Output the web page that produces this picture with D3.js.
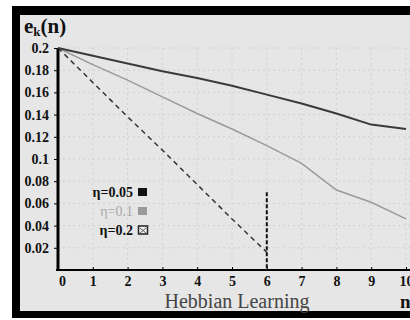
<!DOCTYPE html>
<html>
<head>
<meta charset="utf-8">
<script src="https://cdn.jsdelivr.net/npm/d3@7"></script>
<style>
  body { margin: 0; background: #fff; }
  svg { display: block; }
  text { font-family: "Liberation Serif", "DejaVu Serif", serif; }
</style>
</head>
<body>
<svg width="410" height="320"></svg>
<script>
// values
var steps = [0, 1, 2, 3, 4, 5, 6, 7, 8, 9, 10];
var eta005 = [0.2, 0.193, 0.186, 0.179, 0.173, 0.166, 0.158, 0.150, 0.141, 0.131, 0.127];
var eta01 = [0.2, 0.185, 0.171, 0.156, 0.141, 0.127, 0.112, 0.096, 0.072, 0.061, 0.046];
var steps02 = [0, 1, 2, 3, 4, 5, 6];
var eta02 = [0.2, 0.169, 0.138, 0.108, 0.077, 0.046, 0.016];
var yTicks = [0.02, 0.04, 0.06, 0.08, 0.1, 0.12, 0.14, 0.16, 0.18, 0.2];
var legendNames = ["η=0.05", "η=0.1", "η=0.2"];

var serif = '"Liberation Serif", "DejaVu Serif", serif';
var svg = d3.select("svg");

// scanned page: black frame, grey paper
svg.append("rect").attr("x", 12).attr("y", 6).attr("width", 410).attr("height", 312).attr("fill", "#000");
svg.append("rect").attr("x", 20).attr("y", 15).attr("width", 400).attr("height", 296).attr("fill", "#e6e6e6");

var x = d3.scaleLinear().domain([0, 10]).range([58, 406]);
var y = d3.scaleLinear().domain([0, 0.2]).range([270, 48]);

// faint dotted grid
var grid = svg.append("g").attr("stroke", "#d0d0d0").attr("stroke-dasharray", "2,3").attr("stroke-width", 1);
grid.selectAll(".h").data(yTicks).enter().append("line")
    .attr("x1", x(0)).attr("x2", 410)
    .attr("y1", function (d) { return y(d); }).attr("y2", function (d) { return y(d); });
grid.selectAll(".v").data(steps.slice(1)).enter().append("line")
    .attr("x1", function (d) { return x(d); }).attr("x2", function (d) { return x(d); })
    .attr("y1", y(0.2)).attr("y2", y(0));

// y axis
var yAxis = svg.append("g")
    .attr("transform", "translate(" + x(0) + ",0)")
    .call(d3.axisLeft(y).tickValues(yTicks).tickSize(4).tickPadding(5).tickFormat(d3.format("~g")));
yAxis.attr("font-family", serif);
yAxis.select(".domain").attr("stroke-width", 3).attr("d", "M0," + y(0.2) + "V" + (y(0) + 1));
yAxis.selectAll("text").attr("font-size", 14).attr("font-weight", "bold").attr("fill", "#111");

// x axis
var xAxis = svg.append("g")
    .attr("transform", "translate(0," + y(0) + ")")
    .call(d3.axisBottom(x).tickValues(steps).tickSize(-3).tickPadding(6).tickFormat(d3.format("d")));
xAxis.attr("font-family", serif);
xAxis.select(".domain").attr("stroke-width", 2).attr("d", "M" + (x(0) - 2) + ",0H410");
xAxis.selectAll("text").attr("font-size", 14).attr("font-weight", "bold").attr("fill", "#111")
    .attr("dx", function (d) { return d == 0 ? 4 : 0; });

// curves
var line = d3.line()
    .x(function (d) { return x(d[0]); })
    .y(function (d) { return y(d[1]); });

svg.append("path")
    .datum(d3.zip(steps, eta01))
    .attr("d", line).attr("fill", "none").attr("stroke", "#9a9a9a").attr("stroke-width", 1.5);
svg.append("path")
    .datum(d3.zip(steps, eta005))
    .attr("d", line).attr("fill", "none").attr("stroke", "#3a3a3a").attr("stroke-width", 2);
svg.append("path")
    .datum(d3.zip(steps02, eta02))
    .attr("d", line).attr("fill", "none").attr("stroke", "#333").attr("stroke-width", 1.5)
    .attr("stroke-dasharray", "5,4");

// vertical dashed marker at n=6
svg.append("line")
    .attr("x1", x(6)).attr("x2", x(6))
    .attr("y1", y(0.07)).attr("y2", y(0))
    .attr("stroke", "#111").attr("stroke-width", 2).attr("stroke-dasharray", "4,2");

// legend
var legend = svg.append("g");
var legendY = [192, 211, 230];
var legendColor = ["#111", "#a8a8a8", "#111"];
legend.selectAll("text").data(legendNames).enter().append("text")
    .attr("x", 133).attr("y", function (d, i) { return legendY[i] + 5; })
    .attr("text-anchor", "end").attr("font-size", 14)
    .attr("font-weight", function (d, i) { return i == 1 ? "normal" : "bold"; })
    .attr("fill", function (d, i) { return legendColor[i]; })
    .text(function (d) { return d; });
legend.append("rect").attr("x", 138).attr("y", legendY[0] - 4).attr("width", 9).attr("height", 8).attr("fill", "#111");
legend.append("rect").attr("x", 138).attr("y", legendY[1] - 4).attr("width", 9).attr("height", 8).attr("fill", "#9a9a9a");
legend.append("rect").attr("x", 138.5).attr("y", legendY[2] - 4).attr("width", 9).attr("height", 8)
    .attr("fill", "#f4f4f4").attr("stroke", "#222").attr("stroke-width", 1.5);
legend.append("path")
    .attr("d", "M140," + (legendY[2] - 2) + "L146," + (legendY[2] + 3) + "M146," + (legendY[2] - 2) + "L140," + (legendY[2] + 3))
    .attr("stroke", "#555").attr("stroke-width", 1);

// titles
var title = svg.append("text").attr("x", 24).attr("y", 33)
    .attr("font-size", 21).attr("font-weight", "bold").attr("fill", "#111");
title.append("tspan").text("e");
title.append("tspan").attr("font-size", 13).attr("dy", 3).text("k");
title.append("tspan").attr("dy", -3).text("(n)");

svg.append("text").attr("x", 237).attr("y", 308).attr("text-anchor", "middle")
    .attr("font-size", 20).attr("fill", "#444").text("Hebbian Learning");
svg.append("text").attr("x", 400).attr("y", 308)
    .attr("font-size", 19).attr("font-weight", "bold").attr("fill", "#111").text("n");
</script>
</body>
</html>
